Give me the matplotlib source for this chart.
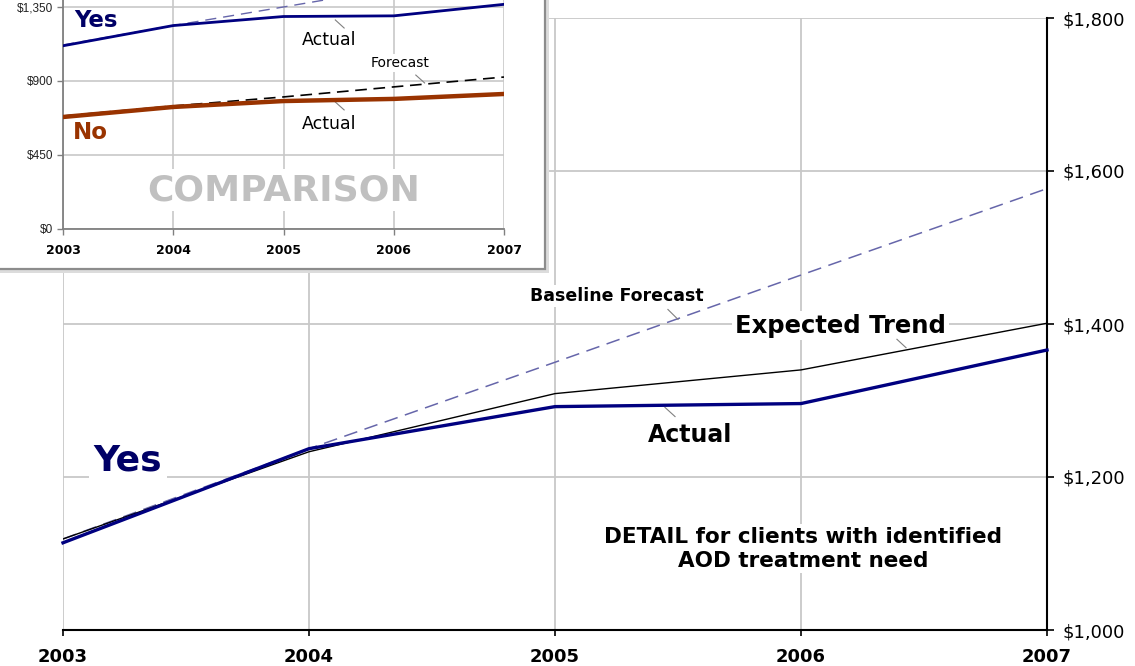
import numpy as np
import matplotlib.pyplot as plt
from matplotlib.patches import Rectangle

# data
years = [2003, 2004, 2005, 2006, 2007]
yes_actual = [1114, 1237, 1292, 1296, 1366]
yes_expected = [1119, 1233, 1309, 1340, 1401]
yes_baseline = [1119, 1237, 1350, 1464, 1577]
no_actual = [681, 742, 778, 791, 821]
no_forecast = [687, 748, 803, 864, 924]

main_ticks = [1000, 1200, 1400, 1600, 1800]
inset_ticks = [0, 450, 900, 1350]

NAVY = '#000080'
DARKNAVY = '#000066'
BROWN = '#993300'
SLATE = '#6666aa'
GRID = '#c8c8c8'

W, H = 1135, 666
fig = plt.figure(figsize=(W / 100, H / 100), dpi=100)


def px(x0, y0, x1, y1):
    # pixel box (from top-left) -> figure fraction rect
    return [x0 / W, 1 - y1 / H, (x1 - x0) / W, (y1 - y0) / H]


def money(v):
    return '${:,.0f}'.format(v)


white = dict(boxstyle='square,pad=0.12', fc='white', ec='none')

# ---------------- main detail chart ----------------
ax = fig.add_axes(px(63, 18, 1047, 630))
ax.set_zorder(0)
ax.set_xlim(2003, 2007)
ax.set_ylim(1000, 1800)
ax.set_xticks(years)
ax.set_xticklabels([str(y) for y in years], fontweight='bold', fontsize=13)
ax.set_yticks(main_ticks)
ax.set_yticklabels([money(v) for v in main_ticks], fontsize=13)
ax.yaxis.tick_right()
ax.tick_params(axis='y', direction='out', length=5, width=1.2, pad=6)
ax.tick_params(axis='x', direction='out', length=4, width=1.2, pad=9)
for s in ['left', 'top']:
    ax.spines[s].set_visible(False)
for s in ['right', 'bottom']:
    ax.spines[s].set_linewidth(1.5)
    ax.spines[s].set_color('black')
ax.grid(True, color=GRID, lw=1.3)
ax.set_axisbelow(True)

ax.plot(years, yes_baseline, color=SLATE, lw=1.1, dashes=(9, 5), zorder=3)
ax.plot(years, yes_expected, color='black', lw=1.0, zorder=4)
ax.plot(years, yes_actual, color=NAVY, lw=2.4, zorder=5, clip_on=False)

ax.text(2003.264, 1222, 'Yes', fontsize=26, fontweight='bold', color=DARKNAVY,
        ha='center', va='center', bbox=white, zorder=6)
ax.text(2005.25, 1437, 'Baseline Forecast', fontsize=12.5, fontweight='bold',
        ha='center', va='center', bbox=white, zorder=2)
ax.text(2006.16, 1398, 'Expected Trend', fontsize=17.5, fontweight='bold',
        ha='center', va='center', bbox=white, zorder=2)
ax.text(2005.55, 1255, 'Actual', fontsize=17, fontweight='bold',
        ha='center', va='center', bbox=white, zorder=2)
ax.text(2006.01, 1106, 'DETAIL for clients with identified\nAOD treatment need',
        fontsize=15.5, fontweight='bold', ha='center', va='center',
        linespacing=1.25, bbox=white, zorder=2)

# leader lines
lead = dict(color='#808080', lw=0.8, zorder=3)
ax.plot([2005.459, 2005.500], [1419, 1406], **lead)
ax.plot([2006.390, 2006.427], [1380, 1369], **lead)
ax.plot([2005.447, 2005.488], [1291, 1279], **lead)

# ---------------- comparison inset ----------------
shadow = Rectangle((-10 / W, 1 - 273 / H), 559 / W, 293 / H,
                   transform=fig.transFigure, fc='#dcdcdc', ec='none', zorder=1)
frame = Rectangle((-10 / W, 1 - 269 / H), 555 / W, 289 / H,
                  transform=fig.transFigure, fc='white', ec='#8c8c8c',
                  lw=1.6, zorder=2)
fig.add_artist(shadow)
fig.add_artist(frame)

ia = fig.add_axes(px(63, -17.7, 504, 229))
ia.set_zorder(3)
ia.patch.set_visible(False)
ia.set_xlim(2003, 2007)
ia.set_ylim(0, 1500)
ia.set_xticks(years)
ia.set_xticklabels([str(y) for y in years], fontweight='bold', fontsize=9)
ia.set_yticks(inset_ticks)
ia.set_yticklabels([money(v) for v in inset_ticks], fontsize=8.5,
                   family='Liberation Sans', color='#222222')
ia.tick_params(axis='y', direction='out', length=4, width=1, color='#808080', pad=3)
ia.tick_params(axis='x', direction='out', length=4, width=1, color='#808080', pad=7)
for s in ['right', 'top']:
    ia.spines[s].set_visible(False)
for s in ['left', 'bottom']:
    ia.spines[s].set_color('#808080')
    ia.spines[s].set_linewidth(1.3)
ia.grid(True, color=GRID, lw=1.2)
ia.set_axisbelow(True)

ia.plot(years, yes_baseline, color=SLATE, lw=1.0, dashes=(8, 5), zorder=3)
ia.plot(years, yes_actual, color=NAVY, lw=2.0, zorder=4)
ia.plot(years, no_forecast, color='black', lw=1.2, dashes=(7, 4), zorder=3)
ia.plot(years, no_actual, color=BROWN, lw=3.2, zorder=4)

ia.text(2003.30, 1265, 'Yes', fontsize=16.5, fontweight='bold', color=DARKNAVY,
        ha='center', va='center')
ia.text(2003.245, 584, 'No', fontsize=16.5, fontweight='bold', color=BROWN,
        ha='center', va='center')
ia.text(2005.0, 237, 'COMPARISON', fontsize=26, fontweight='bold', color='#c0c0c0',
        ha='center', va='center', bbox=white, zorder=2)
ia.text(2005.41, 1150, 'Actual', fontsize=12.5, ha='center', va='center',
        bbox=white, zorder=2)
ia.text(2005.41, 640, 'Actual', fontsize=12.5, ha='center', va='center',
        bbox=white, zorder=2)
ia.text(2006.06, 1009, 'Forecast', fontsize=10, ha='center', va='center',
        bbox=white, zorder=2)

ia.plot([2005.47, 2005.55], [1271, 1222], **lead)
ia.plot([2005.47, 2005.55], [772, 724], **lead)
ia.plot([2006.20, 2006.28], [936, 888], **lead)

fig.savefig('out.png', dpi=100)
